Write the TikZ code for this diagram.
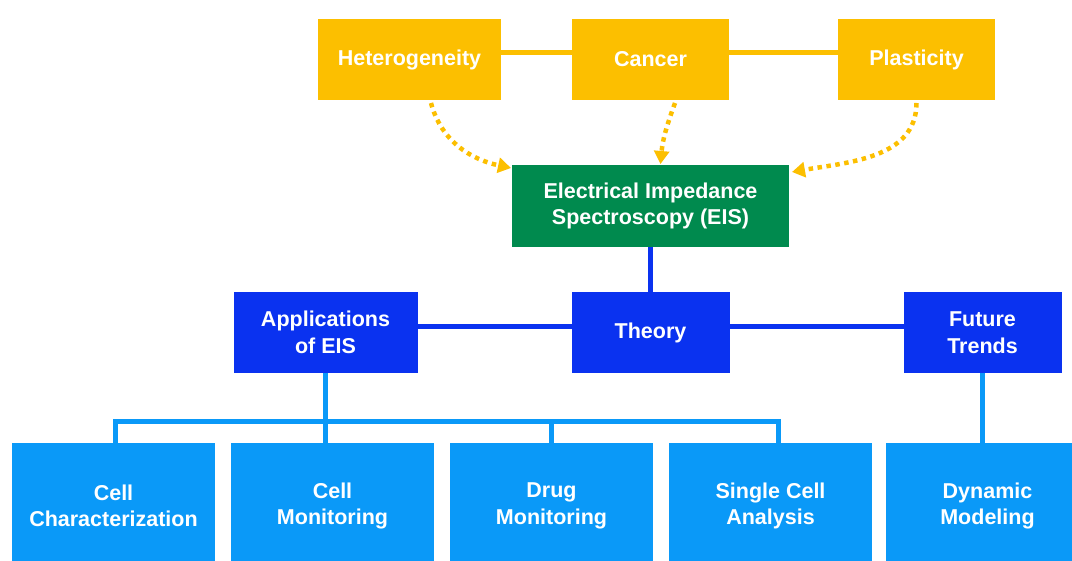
\documentclass[tikz,border=0pt]{standalone}
\usepackage{fontspec}
\setmainfont{Liberation Sans}
\usetikzlibrary{arrows.meta,positioning,calc}

\definecolor{topicyellow}{RGB}{252,191,0}
\definecolor{coregreen}{RGB}{0,138,78}
\definecolor{partblue}{RGB}{10,50,240}
\definecolor{leafblue}{RGB}{10,153,248}

\begin{document}
\begin{tikzpicture}[
  x=1pt, y=1pt,
  every node/.style={font=\fontsize{21.5}{26.5}\selectfont\bfseries},
  box/.style={align=center, text=white, inner sep=2pt, outer sep=0pt,
              minimum height=81pt},
  topic/.style={box, fill=topicyellow, minimum width=157pt},
  core/.style={box, fill=coregreen, minimum width=277pt, minimum height=82pt},
  part/.style={box, fill=partblue, minimum width=158pt},
  leaf/.style={box, fill=leafblue, minimum width=203pt, minimum height=126pt},
  link/.style={line width=5pt},
  feed/.style={line width=4.5pt, topicyellow, dash pattern=on 4.5pt off 4.5pt,
              -{Triangle[length=13pt,width=15pt]}},
]
\useasboundingbox (0,0) rectangle (1072,-561);
\clip (0,0) rectangle (1072,-561);

% Topics (top)
\node[topic, minimum width=183pt] (het) at (409.5,-59.5) {Heterogeneity};
\node[topic, right=71pt of het] (can) {Cancer};
\node[topic, right=109pt of can] (pla) {Plasticity};

\draw[link, topicyellow] ([yshift=6.5pt]het.east) -- ([yshift=6.5pt]can.west);
\draw[link, topicyellow] ([yshift=6.5pt]can.east) -- ([yshift=6.5pt]pla.west);

% Core method
\node[core] (eis) at (650.5,-206) {Electrical Impedance\\Spectroscopy (EIS)};

\draw[feed] ([xshift=21.5pt,yshift=-3pt]het.south) to[out=-75,in=168]
  ([xshift=-1pt,yshift=-3pt]eis.north west);
\draw[feed] ([xshift=24.5pt,yshift=-3pt]can.south) to[out=-110,in=85]
  ([xshift=10pt,yshift=1pt]eis.north);
\draw[feed] ([yshift=-3pt]pla.south) to[out=-90,in=10]
  ([xshift=3pt,yshift=-7pt]eis.north east);

% Parts
\node[part, below=45pt of eis] (thy) {Theory};
\node[part, minimum width=184pt, left=154pt of thy] (app) {Applications\\of EIS};
\node[part, right=174pt of thy] (fut) {Future\\Trends};

\draw[link, partblue] (eis.south) -- (thy.north);
\draw[link, partblue] ([yshift=6pt]app.east) -- ([yshift=6pt]thy.west);
\draw[link, partblue] ([yshift=6pt]thy.east) -- ([yshift=6pt]fut.west);

% Leaves (bottom)
\node[leaf] (cc) at (113.5,-506) {Cell\\Characterization};
\node[leaf, right=16pt of cc] (cm) {Cell\\Monitoring};
\node[leaf, right=16pt of cm] (dm) {Drug\\Monitoring};
\node[leaf, right=16pt of dm] (sca) {Single Cell\\Analysis};
\node[leaf, right=14pt of sca] (dyn) {Dynamic\\Modeling};

\coordinate (bus) at ($(app.south)!0.7!(app.south |- cm.north)$);
\draw[link, leafblue] (app.south) -- (app.south |- cm.north);
\draw[link, leafblue] ([xshift=1.5pt]cc.north) |- (bus) -| ([xshift=8pt]sca.north);
\draw[link, leafblue] (bus -| dm.north) -- (dm.north);
\draw[link, leafblue] (fut.south) -- (fut.south |- dyn.north);

\end{tikzpicture}
\end{document}
